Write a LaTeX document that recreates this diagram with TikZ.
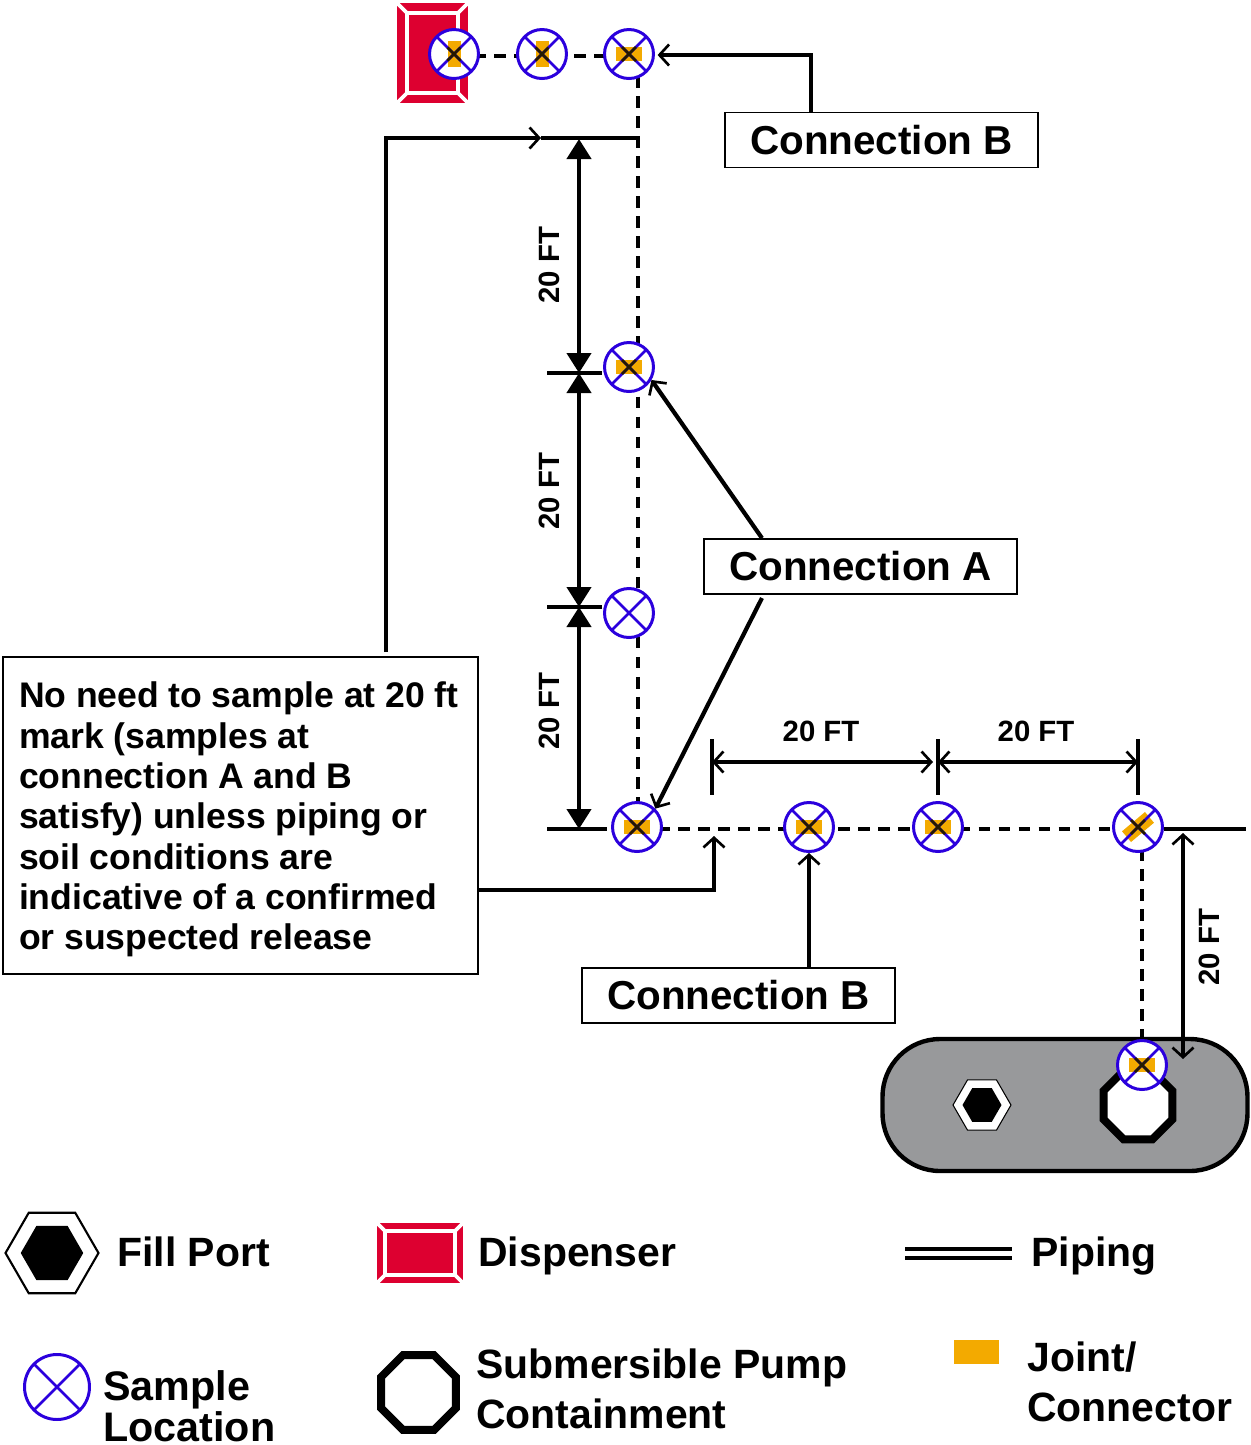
\documentclass[tikz,border=0pt]{standalone}
\usepackage{fontspec}
\setmainfont{Liberation Sans}
\usepackage{xcolor}
\definecolor{sampleblue}{RGB}{43,0,221}
\definecolor{jointorange}{RGB}{243,170,0}
\definecolor{dispred}{RGB}{221,0,48}
\definecolor{tankgray}{RGB}{152,153,155}
\usetikzlibrary{arrows.meta,positioning,shapes.geometric,calc}
\newcommand{\pxfont}[2]{\fontsize{#1}{#2}\selectfont\bfseries}
% dispenser: outer x0,y0,x1,y1 and inset
\newcommand{\dispenser}[5]{
  \fill[dispred] (#1,#2) rectangle (#3,#4);
  \draw[white,line width=2.1pt] (#1+#5,#2+#5) rectangle (#3-#5,#4-#5);
  \foreach \cx/\cy/\ix/\iy in {#1/#2/#1+#5/#2+#5, #3/#2/#3-#5/#2+#5, #1/#4/#1+#5/#4-#5, #3/#4/#3-#5/#4-#5} {
    \draw[white,line width=2.1pt] (\cx,\cy) -- (\ix,\iy);
  }
}
\begin{document}
\begin{tikzpicture}[x=0.02cm,y=-0.02cm,
  sample/.style={circle,draw=sampleblue,line width=1.7pt,fill=white,minimum size=0.98cm,inner sep=0pt,
    path picture={
      \draw[sampleblue,line width=1.5pt] (path picture bounding box.north west) -- (path picture bounding box.south east)
        (path picture bounding box.north east) -- (path picture bounding box.south west);
    }},
  joint/.style n args={3}{sample,
    path picture={
      \begin{scope}[shift={(path picture bounding box.center)}]
        \draw[jointorange,line width=2*#2] (#3:#1) -- (#3+180:#1);
      \end{scope}
      \draw[sampleblue,line width=1.5pt] (path picture bounding box.north west) -- (path picture bounding box.south east)
        (path picture bounding box.north east) -- (path picture bounding box.south west);
      \pgfmathsetlengthmacro\jm{min(#1,#2)}
      \begin{scope}[shift={(path picture bounding box.center)}]
        \draw[black!85!jointorange,line width=1.5pt] (-\jm,-\jm) -- (\jm,\jm) (-\jm,\jm) -- (\jm,-\jm);
      \end{scope}
    }},
  conn/.style={draw,line width=1pt,minimum width=6.26cm,minimum height=1.1cm,inner sep=0pt,font=\pxfont{23}{26}},
  legendtxt/.style={font=\pxfont{23.3}{28.4},align=left,anchor=west,inner sep=0pt},
  ft/.style={font=\pxfont{16.7}{18},inner sep=0pt},
  pipe/.style={line width=2.4pt},
  dashpipe/.style={line width=2.3pt,dash pattern=on 6.6pt off 4.8pt},
  arr/.style={line width=2.4pt,-{Straight Barb[length=5.5pt,width=12pt,line width=1.5pt]}},
  dimo/.style={line width=2.4pt,{Straight Barb[length=5.5pt,width=12pt,line width=1.5pt]}-{Straight Barb[length=5.5pt,width=12pt,line width=1.5pt]}},
  dimf/.style={line width=2.4pt,{Triangle[length=0.4cm,width=0.48cm]}-{Triangle[length=0.4cm,width=0.48cm]}}
]
  \useasboundingbox (0,0) rectangle (1251,1445);

  % Dispenser
  \dispenser{397}{3}{468}{103}{10}

  % Tank
  \node[draw,line width=2.5pt,fill=tankgray,rounded corners=1.15cm,minimum width=7.3cm,minimum height=2.64cm,inner sep=0pt] (tank) at (1065,1105) {};
  \node[regular polygon,regular polygon sides=6,draw=black,line width=0.6pt,fill=white,minimum size=1.16cm,inner sep=0pt] (porto) at (982,1105) {};
  \node[regular polygon,regular polygon sides=6,fill=black,minimum size=0.78cm,inner sep=0pt] (porti) at (982,1105) {};
  \node[regular polygon,regular polygon sides=8,draw=black,line width=4.5pt,fill=white,minimum size=1.49cm,inner sep=0pt] (pump) at (1138,1105) {};

  % Dashed piping
  \coordinate (j3) at (638,56);
  \coordinate (j6) at (638,829);
  \coordinate (j9) at (1142,829);
  \coordinate (j10) at (1142,1064);
  \draw[dashpipe] (454,56) -- (j3);
  \draw[dashpipe] (j3) -- (j6);
  \draw[dashpipe] (j6) -- (j9);
  \draw[dashpipe] (j9) -- (j10);

  % Sample locations
  \node[joint={0.26cm}{0.13cm}{90}] (s1) at (454,54) {};
  \node[joint={0.26cm}{0.13cm}{90}] (s2) at (542,54) {};
  \node[joint={0.26cm}{0.14cm}{0}] (s3) at (629,54) {};
  \node[joint={0.26cm}{0.14cm}{0}] (s4) at (629,367) {};
  \node[sample] (s5) at (629,613) {};
  \node[joint={0.26cm}{0.14cm}{0}] (s6) at (637,827) {};
  \node[joint={0.26cm}{0.14cm}{0}] (s7) at (809,827) {};
  \node[joint={0.26cm}{0.14cm}{0}] (s8) at (938,827) {};
  \node[joint={0.3cm}{0.14cm}{40}] (s9) at (1138,827) {};
  \node[joint={0.26cm}{0.14cm}{0}] (s10) at (1142,1065) {};

  \draw[pipe] (s9.east |- j9) -- ++(82,0);

  % Boxes
  \node[conn] (connBtop) at (881.5,140) {Connection B};
  \node[conn] (connA) at (860.5,566.5) {Connection A};
  \node[conn] (connBlow) at (738.5,995.5) {Connection B};
  \node[draw,line width=1pt,minimum width=9.5cm,minimum height=6.34cm,inner sep=0pt,inner xsep=0.32cm,text width=8.86cm,align=left,font=\pxfont{20.25}{22.95}] (note) at (240.5,815.5)
    {\spaceskip=0.27em \rule{0pt}{19.5pt}No need to sample at 20 ft\\mark (samples at\\connection A and B\\satisfy) unless piping or\\soil conditions are\\indicative of a confirmed\\or suspected release};

  % Callout arrows
  \coordinate (turnB) at (811,55);
  \draw[arr,shorten >=1.5pt] (turnB |- connBtop.north) -- (turnB) -- (s3.east |- turnB);
  \coordinate (tapA) at (762,598);
  \draw[arr] (tapA |- connA.north) -- (s4.-30);
  \draw[arr] (tapA) -- (s6.45);
  \draw[arr] (s7.south |- connBlow.north) -- (s7.south);
  \coordinate (noteup) at (386,652);
  \coordinate (pipeL) at (386,138);
  \coordinate (pipeM) at (541,138);
  \coordinate (pipeR) at (636,138);
  \draw[arr] (noteup) -- (pipeL) -- (pipeM);
  \draw[pipe] (pipeM) -- (pipeR);
  \coordinate (noteout) at (478,890);
  \coordinate (noteturn) at (714,890);
  \coordinate (notetip) at (714,836);
  \draw[arr] (noteout) -- (noteturn) -- (notetip);

  % Vertical dimensions
  \foreach \ya/\yb/\ym in {139/373/265, 373/607/491, 607/829/711} {
    \draw[dimf] (579,\ya) -- (579,\yb);
    \node[ft,rotate=90] at (549,\ym) {20 FT};
  }
  \foreach \y/\xb in {373/602, 607/602, 829/607} {
    \draw[pipe] (547,\y) -- (\xb,\y);
  }

  % Horizontal dimensions
  \foreach \x in {712,938,1138} {
    \draw[pipe] (\x,739) -- (\x,795);
  }
  \draw[dimo] (712,762) -- (933,762);
  \draw[dimo] (938,762) -- (1138,762);
  \node[ft] at (821,731) {20 FT};
  \node[ft] at (1036,731) {20 FT};
  \draw[dimo] (1183,833) -- (1183,1059);
  \node[ft,rotate=90] at (1209,947) {20 FT};

  % Legend
  \node[regular polygon,regular polygon sides=6,draw=black,line width=1.2pt,fill=white,minimum size=1.86cm,inner sep=0pt] (lporto) at (52,1253) {};
  \node[regular polygon,regular polygon sides=6,fill=black,minimum size=1.25cm,inner sep=0pt] (lporti) at (52,1253) {};
  \node[legendtxt] at (117,1252) {Fill Port};
  \dispenser{377}{1223}{463}{1283}{8}
  \node[legendtxt] at (478,1256) {Dispenser};
  \draw[line width=2.2pt] (905,1249) -- (1012,1249) (905,1258) -- (1012,1258);
  \node[legendtxt] at (1031,1256) {Piping};
  \node[sample,minimum size=1.3cm] (lsample) at (57,1387) {};
  \node[legendtxt,font=\pxfont{23.5}{23.5}] at (103,1406) {Sample\\Location};
  \node[regular polygon,regular polygon sides=8,draw=black,line width=4.5pt,fill=white,minimum size=1.62cm,inner sep=0pt] (lpump) at (418.5,1392.5) {};
  \node[legendtxt] at (476,1389) {Submersible Pump\\Containment};
  \fill[jointorange] (954,1340) rectangle (999,1364);
  \node[legendtxt] at (1027,1382) {Joint/\\Connector};
\end{tikzpicture}
\end{document}
